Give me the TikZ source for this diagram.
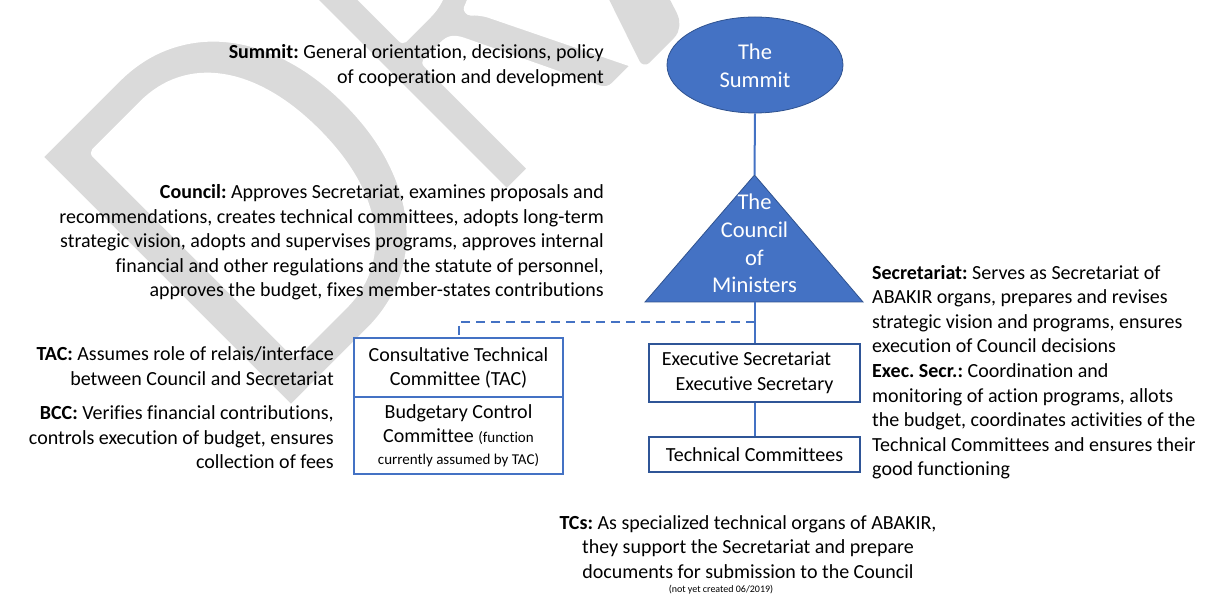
\documentclass[tikz,border=0pt]{standalone}
\usepackage{graphicx}
\usepackage{fontspec}
\setmainfont{Carlito}[Ligatures=NoCommon]
\usetikzlibrary{shapes.geometric}

\definecolor{orgblue}{HTML}{4472C4}
\definecolor{orgedge}{HTML}{2F528F}
\definecolor{boxedge}{HTML}{2F5597}
\definecolor{wmgray}{HTML}{DADADA}

% lighter watermark glyphs: fill, then stroke the outline in white
\makeatletter
\newcommand\wmthin[1]{\pgfsys@invoke{2 Tr 1 1 1 RG #1 w 1 j}}
\newcommand\wmplain{\pgfsys@invoke{0 Tr}}
\makeatother

\tikzset{
  desc/.style={inner sep=0pt, text=black, font=\fontsize{20}{24.6}\selectfont},
  shapetext/.style={inner sep=0pt, text=white, align=center, font=\fontsize{22.5}{27.6}\selectfont},
  link/.style={draw=orgblue, line width=2pt},
  dashlink/.style={draw=orgblue, line width=2pt, dash pattern=on 9pt off 6pt},
  thickbox/.style={draw=boxedge, line width=2.7pt, fill=white, inner sep=0pt, align=center,
    font=\fontsize{20}{24.6}\selectfont},
  thinbox/.style={draw=orgblue, line width=1.2pt, fill=white, inner sep=0pt, align=center,
    font=\fontsize{20}{24}\selectfont},
}

\begin{document}
\frenchspacing
\begin{tikzpicture}[x=1pt,y=-1pt]
\useasboundingbox (0,0) rectangle (1205,601);

% watermark
\begin{scope}
  \clip (0,0) rectangle (1205,601);
  \node[inner sep=0pt, text=wmgray, rotate=45, xscale=0.9, anchor=base west,
        font=\fontsize{563}{563}\selectfont] (mark) at (267,436.5)
        {\wmthin{12}D\scalebox{0.8}[1]{R}AFT\wmplain};
\end{scope}

% the Summit
\node[ellipse, draw=orgedge, line width=0.8pt, fill=orgblue,
      minimum width=176pt, minimum height=96pt, inner sep=0pt] (summit) at (755,65) {};
\node[shapetext] (summitlabel) at (755,65.5) {The\\Summit};

% the Council of Ministers
\coordinate (apex) at (754.5,175);
\coordinate (baseL) at (645,302);
\coordinate (baseR) at (863,302);
\coordinate (basemid) at (754.5,302);
\filldraw[fill=orgblue, draw=orgedge, line width=0.8pt, line join=miter]
  (apex) -- (baseR) -- (baseL) -- cycle;
\node[shapetext] (council) at (754.5,243.5) {The\\Council\\of\\Ministers};

% boxes
\node[thickbox, minimum width=211pt, minimum height=58pt] (exec) at (754.5,373)
  {Executive Secretariat\hspace*{16pt}\\Executive Secretary};
\node[thickbox, line width=2pt, minimum width=211pt, minimum height=35pt] (tech) at (754.5,454.5)
  {Technical Committees};
\node[thinbox, minimum width=209pt, minimum height=59pt] (tac) at (458.5,367.5)
  {Consultative Technical\\Committee (TAC)};
\node[thinbox, minimum width=209pt, minimum height=77pt] (bcc) at (458.5,435.5)
  {Budgetary Control\\Committee {\fontsize{15}{18}\selectfont(function}\\[-2pt]
   {\fontsize{15}{18}\selectfont currently assumed by TAC)}};

% connectors
\coordinate (tap) at (754.5,322);
\draw[link] (summit.south) -- (apex);
\draw[link] (basemid) -- (exec.north);
\draw[link] (exec.south) -- (tech.north);
\draw[dashlink] (tap) -| (tac.north);

% descriptions (anchored at the baseline of their last line)
\node[desc, align=right, anchor=base east] (summitdesc) at (604,83.6)
  {\textbf{Summit:} General orientation, decisions, policy\\
   of cooperation and development};
\node[desc, align=right, anchor=base east] (councildesc) at (604,296.9)
  {\textbf{Council:} Approves Secretariat, examines proposals and\\
   recommendations, creates technical committees, adopts long-term\\
   strategic vision, adopts and supervises programs, approves internal\\
   financial and other regulations and the statute of personnel,\\
   approves the budget, fixes member-states contributions};
\node[desc, align=right, anchor=base east] (tacdesc) at (334,385.6)
  {\textbf{TAC:} Assumes role of relais/interface\\
   between Council and Secretariat};
\node[desc, align=right, anchor=base east] (bccdesc) at (334,468.7)
  {\textbf{BCC:} Verifies financial contributions,\\
   controls execution of budget, ensures\\
   collection of fees};
\node[desc, align=left, anchor=base west] (secdesc) at (872,475.8)
  {\textbf{Secretariat:} Serves as Secretariat of\\
   ABAKIR organs, prepares and revises\\
   strategic vision and programs, ensures\\
   execution of Council decisions\\
   \textbf{Exec. Secr.:} Coordination and\\
   monitoring of action programs, allots\\
   the budget, coordinates activities of the\\
   Technical Committees and ensures their\\
   good functioning};
\node[desc, align=center, anchor=base] (tcdesc) at (748,578.2)
  {\textbf{TCs:} As specialized technical organs of ABAKIR,\\
   they support the Secretariat and prepare\\
   documents for submission to the Council};
\node[inner sep=0pt, anchor=base, font=\fontsize{10}{12}\selectfont] (tcnote) at (721,592)
  {(not yet created 06/2019)};
\end{tikzpicture}
\end{document}
